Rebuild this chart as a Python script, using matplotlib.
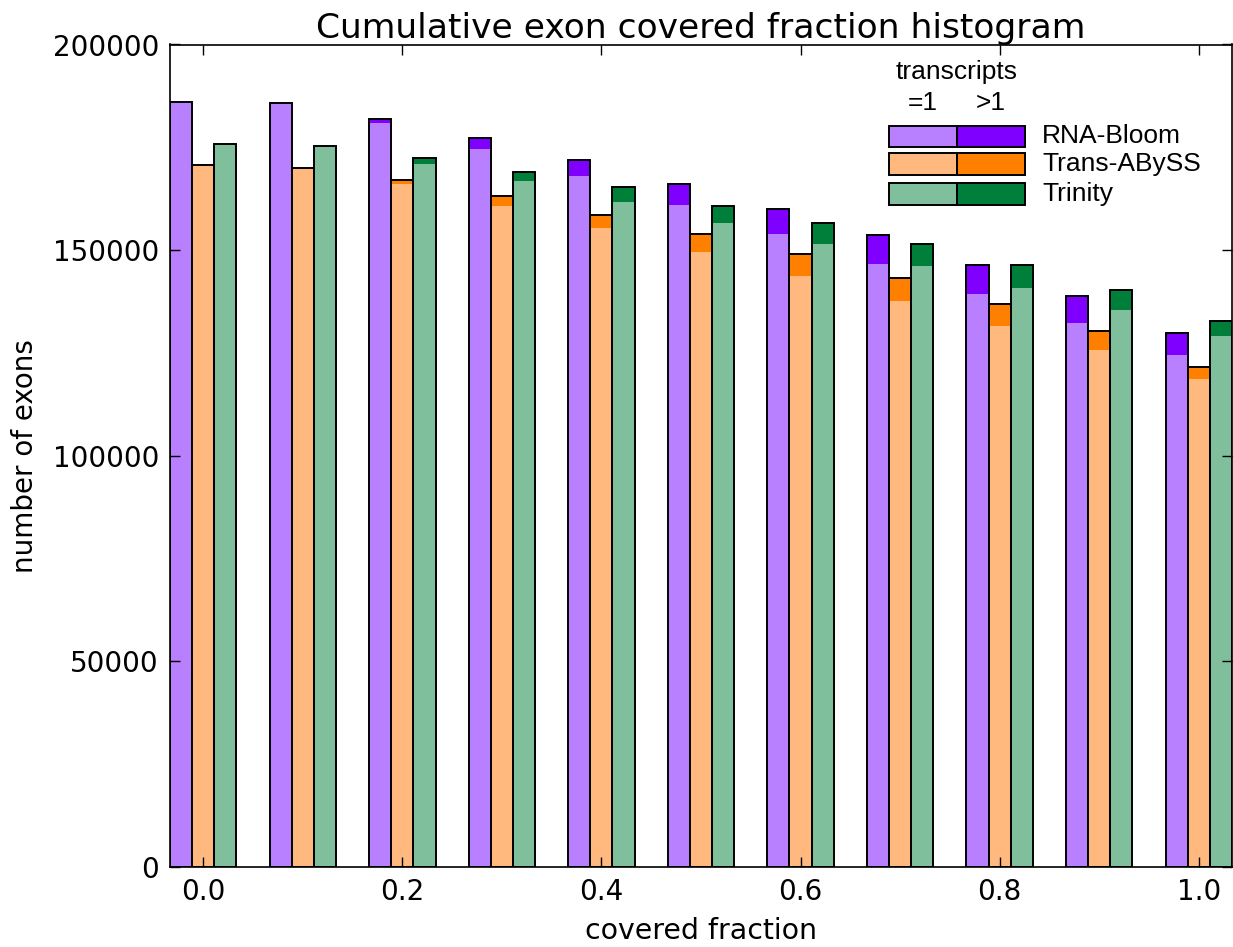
import matplotlib
matplotlib.use("Agg")
import matplotlib.pyplot as plt
from matplotlib.patches import Rectangle

# covered-fraction bins
fractions = [0.0, 0.1, 0.2, 0.3, 0.4, 0.5, 0.6, 0.7, 0.8, 0.9, 1.0]

# totals (=1 plus >1 transcripts) and the =1 part for each assembler
rnabloom_total = [186100, 185700, 181900, 177300, 172000, 166100, 159900, 153600, 146500, 138900, 129800]
rnabloom_single = [186100, 185700, 180950, 174600, 168000, 160900, 153800, 146700, 139400, 132400, 124600]
transabyss_total = [170700, 169900, 167150, 163100, 158600, 153900, 149000, 143200, 136800, 130300, 121500]
transabyss_single = [170700, 169800, 166200, 160800, 155400, 149500, 143800, 137550, 131600, 125800, 118650]
trinity_total = [175700, 175300, 172300, 168900, 165300, 160700, 156500, 151500, 146400, 140200, 132700]
trinity_single = [175700, 175000, 171050, 166700, 161600, 156600, 151500, 146200, 140700, 135400, 129000]

names = ["RNA-Bloom", "Trans-ABySS", "Trinity"]
light = ["#b87fff", "#ffb97f", "#7fbf9c"]
dark = ["#7f00ff", "#ff7f00", "#007f3a"]

series = [(rnabloom_total, rnabloom_single),
          (transabyss_total, transabyss_single),
          (trinity_total, trinity_single)]

width = 0.1 / 4.5
offsets = [-width, 0.0, width]

fig = plt.figure(figsize=(12.33, 9.47), dpi=100)
ax = fig.add_axes([170 / 1233, 80 / 947, 1062 / 1233, 822.5 / 947])

for i, (total, single) in enumerate(series):
    xs = [f + offsets[i] for f in fractions]
    ax.bar(xs, total, width, color=dark[i], linewidth=0)
    ax.bar(xs, single, width, color=light[i], linewidth=0)
    ax.bar(xs, total, width, fill=False, edgecolor="black", linewidth=1.4)

ax.set_xlim(fractions[0] - 1.5 * width, fractions[-1] + 1.5 * width)
ax.set_ylim(0, 200000)
ax.set_xticks([0.0, 0.2, 0.4, 0.6, 0.8, 1.0])
ax.set_xticklabels(["0.0", "0.2", "0.4", "0.6", "0.8", "1.0"])
ax.set_yticks([0, 50000, 100000, 150000, 200000])
ax.set_yticklabels(["0", "50000", "100000", "150000", "200000"])
ax.tick_params(direction="in", length=7, width=1, top=True, right=True,
               labelsize=20, pad=8)
for s in ax.spines.values():
    s.set_linewidth(1.2)

ax.set_title("Cumulative exon covered fraction histogram", fontsize=24.8, pad=5)
ax.set_xlabel("covered fraction", fontsize=20.4, labelpad=8)
ax.set_ylabel("number of exons", fontsize=20, labelpad=10)

# hand-made legend: =1 / >1 swatches per assembler
lx, mx, rx = 0.677, 0.741, 0.805
h = 0.0265
rows = [0.875, 0.841, 0.805]
ax.text(mx, 0.967, "transcripts", transform=ax.transAxes, ha="center", va="center",
        fontsize=19, family="Liberation Sans")
ax.text((lx + mx) / 2, 0.929, "=1", transform=ax.transAxes, ha="center", va="center",
        fontsize=19, family="Liberation Sans")
ax.text((mx + rx) / 2, 0.929, ">1", transform=ax.transAxes, ha="center", va="center",
        fontsize=19, family="Liberation Sans")
for i, y in enumerate(rows):
    ax.add_patch(Rectangle((lx, y), mx - lx, h, transform=ax.transAxes,
                           facecolor=light[i], edgecolor="black", linewidth=1.4))
    ax.add_patch(Rectangle((mx, y), rx - mx, h, transform=ax.transAxes,
                           facecolor=dark[i], edgecolor="black", linewidth=1.4))
    ax.text(0.821, y + h / 2, names[i], transform=ax.transAxes, ha="left", va="center",
            fontsize=19, family="Liberation Sans")

fig.savefig("out.png", dpi=100)
